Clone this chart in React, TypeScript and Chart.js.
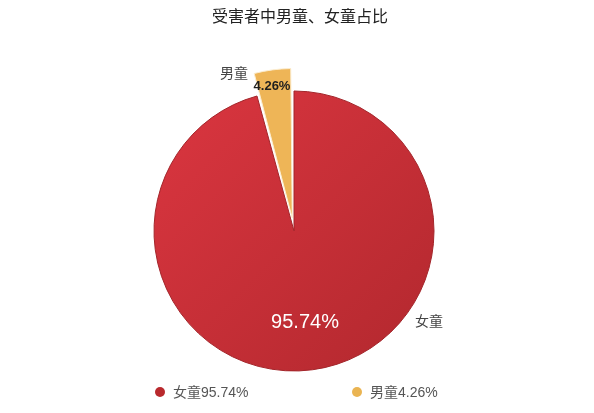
import { useEffect, useRef } from "react";
import { Chart, ArcElement, PieController, Plugin } from "chart.js";

Chart.register(ArcElement, PieController);

//  Data

const TITLE = "受害者中男童、女童占比";
const CATEGORIES = ["女童", "男童"];
const VALUES = [95.74, 4.26];
const VALUE_LABELS = ["95.74%", "4.26%"];

//  Style

const FONT = "'Liberation Sans', 'Noto Sans CJK SC', sans-serif";
const RED_LIGHT = "#db3640";
const RED_DARK = "#b2282e";
const YELLOW = "#eeb557";
const LEGEND_DOTS = ["#b9292d", "#eab452"];
const RADIUS = 140;
// chart.js draws an arc offset at a quarter of the option value
const YELLOW_OFFSET = 13 * 4;

//  Plugins

const sliceLabels: Plugin<"pie"> = {
  id: "sliceLabels",
  afterDatasetsDraw(chart) {
    const meta = chart.getDatasetMeta(0);
    const big = meta.data[0] as unknown as { x: number; y: number };
    if (!big) return;
    const { ctx } = chart;
    const cx = big.x;
    const cy = big.y;
    ctx.save();
    ctx.textAlign = "center";
    ctx.textBaseline = "middle";

    // value inside big slice
    ctx.fillStyle = "#ffffff";
    ctx.font = `20px ${FONT}`;
    ctx.fillText(VALUE_LABELS[0], cx + 11, cy + 91);

    // category outside big slice
    ctx.fillStyle = "#444444";
    ctx.font = `14px ${FONT}`;
    ctx.fillText(CATEGORIES[0], cx + 135, cy + 91);

    // category next to small slice
    ctx.fillText(CATEGORIES[1], cx - 60, cy - 157);

    // value on small slice
    ctx.fillStyle = "#1e1e1e";
    ctx.font = `bold 13px ${FONT}`;
    ctx.fillText(VALUE_LABELS[1], cx - 22, cy - 145);
    ctx.restore();
  },
};

//  Component

export default function App() {
  const canvasRef = useRef<HTMLCanvasElement>(null);

  useEffect(() => {
    document.body.style.margin = "0";
    if (!canvasRef.current) return;

    const chart = new Chart(canvasRef.current, {
      type: "pie",
      data: {
        labels: CATEGORIES,
        datasets: [
          {
            data: VALUES,
            backgroundColor: (c) => {
              if (c.dataIndex === 1) return YELLOW;
              const area = c.chart.chartArea;
              if (!area) return RED_LIGHT;
              const mx = (area.left + area.right) / 2;
              const my = (area.top + area.bottom) / 2;
              const g = c.chart.ctx.createLinearGradient(
                mx - RADIUS,
                my - RADIUS,
                mx + RADIUS,
                my + RADIUS,
              );
              g.addColorStop(0, RED_LIGHT);
              g.addColorStop(1, RED_DARK);
              return g;
            },
            borderColor: ["#a3252a", "#fbeccf"],
            borderWidth: 1,
            offset: [0, YELLOW_OFFSET],
          },
        ],
      },
      options: {
        responsive: false,
        animation: false,
        radius: RADIUS,
        layout: { padding: { top: 49, right: 6, bottom: 0, left: 0 } },
        plugins: {
          legend: { display: false },
          tooltip: { enabled: false },
        },
      },
      plugins: [sliceLabels],
    });

    return () => chart.destroy();
  }, []);

  return (
    <div
      style={{
        position: "relative",
        width: "594px",
        height: "413px",
        background: "#ffffff",
        overflow: "hidden",
        fontFamily: FONT,
      }}
    >
      <canvas
        ref={canvasRef}
        width={594}
        height={413}
        style={{ position: "absolute", left: 0, top: 0 }}
      />

      {/* Title */}
      <div
        style={{
          position: "absolute",
          left: 0,
          width: "600px",
          top: "6px",
          textAlign: "center",
          fontSize: "16px",
          lineHeight: "22px",
          color: "#222222",
        }}
      >
        {TITLE}
      </div>

      {/* Legend */}
      {CATEGORIES.map((cat, i) => (
        <div
          key={cat}
          style={{
            position: "absolute",
            left: i === 0 ? "155px" : "352px",
            top: "383px",
            display: "flex",
            alignItems: "center",
            fontSize: "14px",
            lineHeight: "18px",
            color: "#555555",
          }}
        >
          <span
            style={{
              display: "inline-block",
              width: "10px",
              height: "10px",
              borderRadius: "50%",
              background: LEGEND_DOTS[i],
              marginRight: "8px",
            }}
          />
          {cat + VALUE_LABELS[i]}
        </div>
      ))}
    </div>
  );
}
